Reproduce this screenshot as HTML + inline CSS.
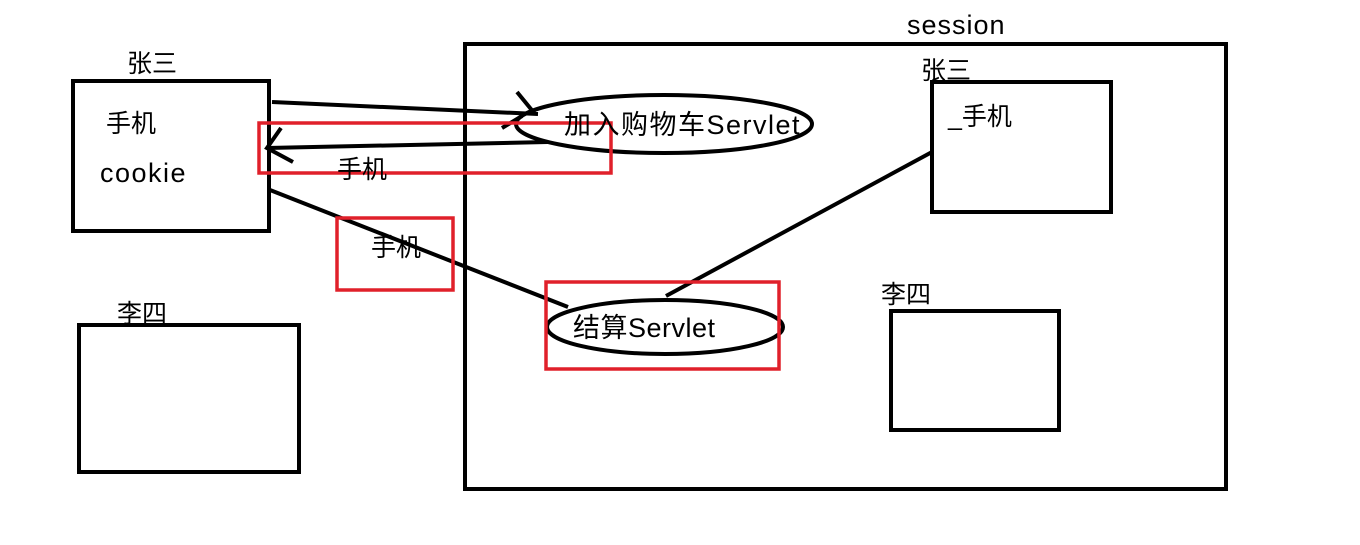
<!DOCTYPE html>
<html><head><meta charset="utf-8"><style>
html,body{margin:0;padding:0;background:#fff;}
svg text{font-family:"Liberation Sans","Noto Sans CJK SC",sans-serif;fill:#000;}
</style></head><body>
<svg width="1360" height="540" viewBox="0 0 1360 540" xmlns="http://www.w3.org/2000/svg">
<g fill="none" stroke="#000" stroke-width="4">
<rect x="465" y="44" width="761" height="445"/>
<rect x="73" y="81" width="196" height="150"/>
<rect x="79" y="325" width="220" height="147"/>
<rect x="932" y="82" width="179" height="130"/>
<rect x="891" y="311" width="168" height="119"/>
<ellipse cx="664" cy="124" rx="148" ry="29"/>
<ellipse cx="665" cy="327" rx="118" ry="27"/>
<path d="M272 102 L538 114 M517 92 L535 114 M502 128 L522 116"/>
<path d="M548 142 L267 148 M281 128 L267 148 L293 162"/>
<path d="M270 190 L568 307"/>
<path d="M666 296 L932 152"/>
</g>
<g fill="none" stroke="#e0202a" stroke-width="3.5">
<rect x="259" y="123" width="352" height="50"/>
<rect x="337" y="218" width="116" height="72"/>
<rect x="546" y="282" width="233" height="87"/>
</g>
<g font-size="25">
<text x="127" y="72">张三</text>
<text x="106" y="132">手机</text>
<text x="100" y="182" font-size="27" letter-spacing="1.5">cookie</text>
<text x="117" y="322">李四</text>
<text x="337" y="178">手机</text>
<text x="371" y="256">手机</text>
<text x="564" y="134" font-size="27" letter-spacing="1.5">加入购物车Servlet</text>
<text x="573" y="337" font-size="27" letter-spacing="0.5">结算Servlet</text>
<text x="907" y="34" font-size="27" letter-spacing="1">session</text>
<text x="921" y="79">张三</text>
<text x="948" y="125">_手机</text>
<text x="881" y="303">李四</text>
</g>
</svg>
</body></html>
